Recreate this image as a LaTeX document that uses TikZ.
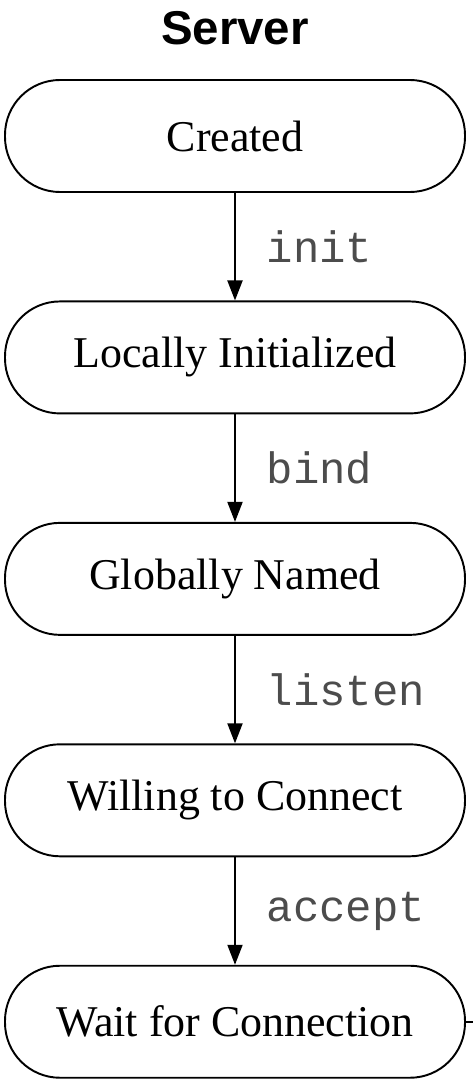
\documentclass[tikz,border=0pt]{standalone}
\usepackage{fontspec}
\setmainfont{Liberation Serif}
\newfontfamily\titlefont{Liberation Sans}
\newfontfamily\callfont{Liberation Mono}
\usetikzlibrary{positioning,arrows.meta}
\tikzset{
  state/.style={draw, line width=1.1pt, rounded corners=1.1cm,
    minimum width=9.2cm, minimum height=2.24cm, font=\fontsize{25}{28}\selectfont},
  trans/.style={line width=1.1pt, -{Triangle[length=0.4cm,width=0.3cm]}},
  call/.style={right=0.5cm, midway, black!70, font=\callfont\fontsize{25}{28}\selectfont}
}
\begin{document}
\begin{tikzpicture}
  \useasboundingbox (0,0) rectangle (9.46,-21.6);
  % title
  \node (title) at (4.7,-0.56) {\titlefont\bfseries\fontsize{27}{30}\selectfont Server};
  % states of the server
  \node[state] (created) at (4.7,-2.72) {Created};
  \node[state, below=2.15cm of created] (local) {Locally Initialized};
  \node[state, below=2.15cm of local] (named) {Globally Named};
  \node[state, below=2.15cm of named] (willing) {Willing to Connect};
  \node[state, below=2.15cm of willing] (wait) {Wait for Connection};
  % calls between them
  \draw[trans] (created) -- (local) node[call] {init};
  \draw[trans] (local) -- (named) node[call] {bind};
  \draw[trans] (named) -- (willing) node[call] {listen};
  \draw[trans] (willing) -- (wait) node[call] {accept};
  % leaves the picture
  \coordinate (out) at (9.46,0 |- wait.east);
  \draw[line width=1.1pt] (wait.east) -- (out);
\end{tikzpicture}
\end{document}
